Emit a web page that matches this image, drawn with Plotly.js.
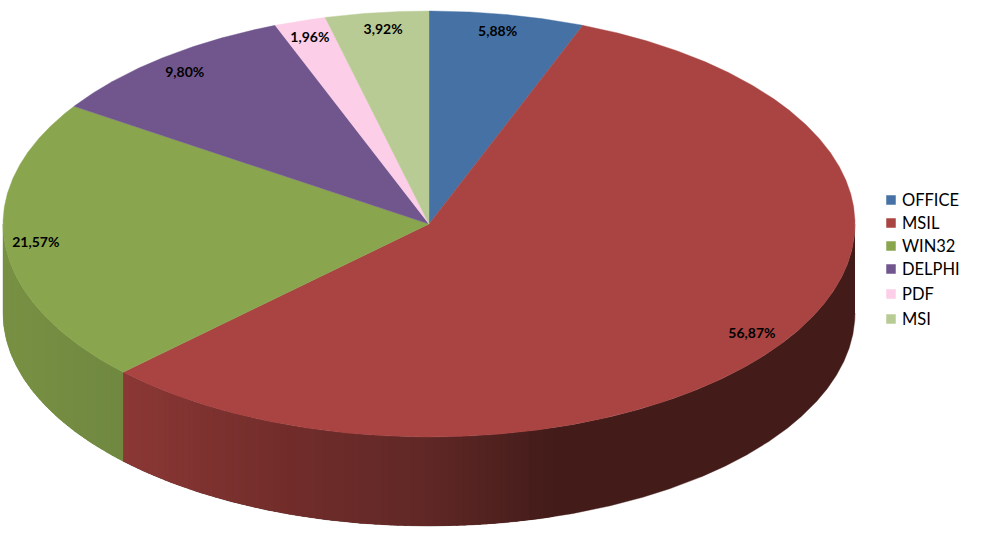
<!DOCTYPE html>
<html>
<head>
<meta charset="utf-8">
<script src="https://cdn.plot.ly/plotly-3.0.1.min.js"></script>
<style>html,body{margin:0;padding:0;background:#fff}#chart{width:987px;height:538px}</style>
</head>
<body>
<div id="chart"></div>
<script>
// Data
const categories = ["OFFICE", "MSIL", "WIN32", "DELPHI", "PDF", "MSI"];
const shares = [5.88, 56.87, 21.57, 9.80, 1.96, 3.92];
const labels = ["5,88%", "56,87%", "21,57%", "9,80%", "1,96%", "3,92%"];

// Styles
const colors = ["#4571a5", "#a94442", "#89a64e", "#71568e", "#fccee8", "#b9cb94"];
const wallStops = {
  1: [[123, [139, 56, 53]], [300, [112, 44, 42]], [430, [96, 40, 38]], [550, [68, 28, 26]], [860, [67, 28, 26]]],
  2: [[0, [120, 145, 67]], [123, [112, 136, 64]]]
};
const wallBase = { 1: "rgb(67,28,26)", 2: "rgb(116,140,65)" };
const legendRows = [200, 223, 246, 269, 294, 319];
const LEGEND_TEXT_DY = 2;
const labelNudgeX = [-3, -2, -5, 0, -1, 2];
const labelNudgeY = [0, 3, 2, 1, 0, 0];
const FONT = "Lato, Carlito, Calibri, sans-serif";

// Geometry
const CX = 429, CY = 224, RX = 426, RY = 213, DEPTH = 89, LABEL_R = 0.915;
const GRADIENT_END_X = 560;
const px = t => CX + RX * Math.sin(t * Math.PI / 180);
const py = t => CY - RY * Math.cos(t * Math.PI / 180);

function wallColor(stops, x) {
  if (x <= stops[0][0]) return stops[0][1];
  for (let i = 1; i < stops.length; i++) {
    if (x <= stops[i][0]) {
      const f = (x - stops[i - 1][0]) / (stops[i][0] - stops[i - 1][0]);
      return stops[i - 1][1].map((c, k) => c + (stops[i][1][k] - c) * f);
    }
  }
  return stops[stops.length - 1][1];
}

function wallPolygon(t0, t1) {
  const xs = [], ys = [];
  for (let t = t0; t < t1; t += 0.2) { xs.push(px(t)); ys.push(py(t)); }
  xs.push(px(t1)); ys.push(py(t1));
  for (let k = xs.length - 1; k >= 0; k--) { xs.push(xs[k]); ys.push(ys[k] + DEPTH); }
  return { x: xs, y: ys };
}

const traces = [];
let acc = 0;
const ranges = shares.map(v => { const r = [acc * 3.6, (acc + v) * 3.6]; acc += v; return r; });

// Side wall: a solid base per slice, then gradient bands on top of it
ranges.forEach((r, i) => {
  const a = Math.max(r[0], 90), b = Math.min(r[1], 270);
  if (b <= a) return;
  const base = wallPolygon(a, b);
  traces.push({
    x: base.x, y: base.y, mode: "lines", fill: "toself", fillcolor: wallBase[i],
    line: { width: 0.4, color: wallBase[i] }, hoverinfo: "skip", showlegend: false
  });
  const STEP = 1;
  const starts = [];
  for (let t = a; t < b; t += STEP) if (px(t) < GRADIENT_END_X) starts.push(t);
  starts.reverse().forEach(t0 => {
    const t1 = Math.min(t0 + STEP, b);
    const tEnd = Math.min(t1 + 0.4, b);
    const c = wallColor(wallStops[i], (px(t0) + px(t1)) / 2).map(Math.round);
    const poly = wallPolygon(t0, tEnd);
    traces.push({
      x: poly.x, y: poly.y, mode: "lines", fill: "toself", fillcolor: `rgb(${c})`,
      line: { width: 0 }, hoverinfo: "skip", showlegend: false
    });
  });
});

// Top face slices
ranges.forEach((r, i) => {
  const xs = [CX], ys = [CY];
  for (let t = r[0]; t < r[1]; t += 0.25) { xs.push(px(t)); ys.push(py(t)); }
  xs.push(px(r[1]), CX); ys.push(py(r[1]), CY);
  traces.push({
    x: xs, y: ys, mode: "lines", fill: "toself", fillcolor: colors[i],
    line: { width: 0.4, color: colors[i] }, name: categories[i], hoverinfo: "skip", showlegend: false
  });
});

// Percentage labels
traces.push({
  x: ranges.map((r, i) => CX + LABEL_R * RX * Math.sin((r[0] + r[1]) * Math.PI / 360) + labelNudgeX[i]),
  y: ranges.map((r, i) => CY - LABEL_R * RY * Math.cos((r[0] + r[1]) * Math.PI / 360) + labelNudgeY[i]),
  text: labels, mode: "text", textposition: "middle center",
  textfont: { family: FONT, size: 14, color: "#000", weight: 700 },
  hoverinfo: "skip", showlegend: false
});

// Legend key
categories.forEach((c, i) => {
  traces.push({
    x: [891], y: [legendRows[i]], mode: "markers",
    marker: { symbol: "square", size: 9.5, color: colors[i] },
    name: c, hoverinfo: "skip", showlegend: false
  });
  traces.push({
    x: [902], y: [legendRows[i] + LEGEND_TEXT_DY], text: [c], mode: "text", textposition: "middle right",
    textfont: { family: FONT, size: 16.5, color: "#000" },
    name: c, hoverinfo: "skip", showlegend: false
  });
});

Plotly.newPlot("chart", traces, {
  width: 987, height: 538,
  margin: { l: 0, r: 0, t: 0, b: 0 },
  paper_bgcolor: "#fff", plot_bgcolor: "#fff",
  showlegend: false, hovermode: false,
  xaxis: { range: [0, 987], visible: false, fixedrange: true },
  yaxis: { range: [538, 0], visible: false, fixedrange: true }
}, { displayModeBar: false, staticPlot: true });
</script>
</body>
</html>
